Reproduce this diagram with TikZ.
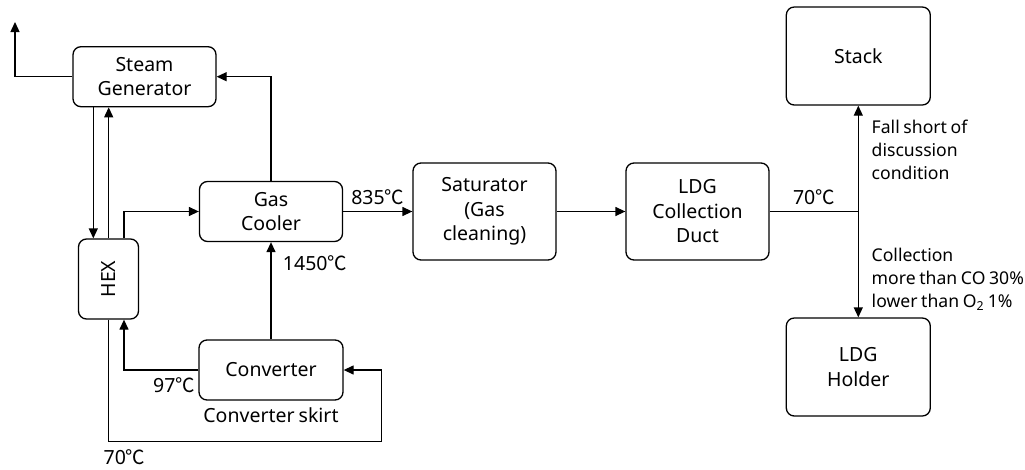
\documentclass[tikz,border=0pt]{standalone}
\usepackage{fontspec}
\setmainfont[WordSpace=0.8]{Noto Sans}
\newfontfamily\cjk{Noto Sans CJK KR}
\usetikzlibrary{arrows.meta,positioning}
\newcommand{\degC}{{\cjk ℃}}
\begin{document}
\begin{tikzpicture}[x=1pt,y=-1pt,
  every node/.style={font=\fontsize{19.5}{24.5}\selectfont, inner sep=0pt},
  unit/.style={draw, rounded corners=8pt, line width=1.3pt, align=center},
  flow/.style={line width=1.3pt, -{Triangle[length=10pt,width=9pt]}},
  plain/.style={line width=1.3pt},
  lbl/.style={font=\fontsize{17.6}{23}\selectfont, align=left}]
\useasboundingbox (0,0) rectangle (1025,469);

% process units
\node[unit, minimum width=143pt, minimum height=60pt] (sg)  at (144.5,76.7) {Steam\\Generator};
\node[unit, minimum width=143pt, minimum height=60pt] (gc)  at (271,211.5) {Gas\\Cooler};
\node[unit, minimum width=60pt, minimum height=80pt] (hex) at (108.5,279) {};
\node[rotate=90] (hexlbl) at (hex.center) {HEX};
\node[unit, minimum width=144pt, minimum height=60pt] (cv)  at (271,370) {Converter};
\node[unit, minimum width=143pt, minimum height=97pt] (sat) at (484.5,211.5) {Saturator\\(Gas\\cleaning)};
\node[unit, minimum width=143pt, minimum height=97pt] (duct) at (697.5,211.5) {LDG\\Collection\\Duct};
\node[unit, minimum width=144pt, minimum height=98pt] (stack) at (858.3,56) {Stack};
\node[unit, minimum width=144pt, minimum height=98pt] (hold) at (858.3,367) {LDG\\Holder};

% helper points
\coordinate (vent) at (15,22);
\coordinate (jn) at (858.3,211.5);

% steam generator vent
\draw[flow] (sg.west |- 0,76.7) -| (vent);
% gas cooler to steam generator
\draw[flow] (gc.north) |- (sg.east);
% steam generator <-> HEX
\draw[flow] (93.3,0 |- sg.south) -- (93.3,0 |- hex.north);
\draw[flow] (108.7,0 |- hex.north) -- (108.7,0 |- sg.south);
% HEX to gas cooler
\draw[flow] (124,0 |- hex.north) |- (gc.west);
% gas cooler to saturator
\draw[flow] (gc.east) -- node[above=6pt] {835\degC} (sat.west);
% converter to gas cooler
\draw[flow] (cv.north) -- (gc.south);
\node (t1450) at (315,263) {1450\degC};
% converter to HEX
\draw[flow] (cv.west) -| (124,0 |- hex.south);
\node (t97) at (174,385) {97\degC};
% HEX back to converter skirt
\draw[flow] (hex.south) -- (108.5,441.7) -| (381.7,370) -- (cv.east);
\node (t70a) at (124.5,457) {70\degC};
\node (skirt) at (271,415) {Converter skirt};
% saturator to duct
\draw[flow] (sat.east) -- (duct.west);
% duct to junction and split
\draw[plain] (duct.east) -- node[above=6pt] {70\degC} (jn);
\draw[flow] (jn) -- (stack.south);
\draw[flow] (jn) -- (hold.north);
\node[lbl, anchor=north west] (fall) at (871.5,120) {Fall short of\\discussion\\condition};
\node[lbl, anchor=north west] (coll) at (871.5,248) {Collection\\more than CO 30\%\\lower than O\textsubscript{2} 1\%};
\end{tikzpicture}
\end{document}
